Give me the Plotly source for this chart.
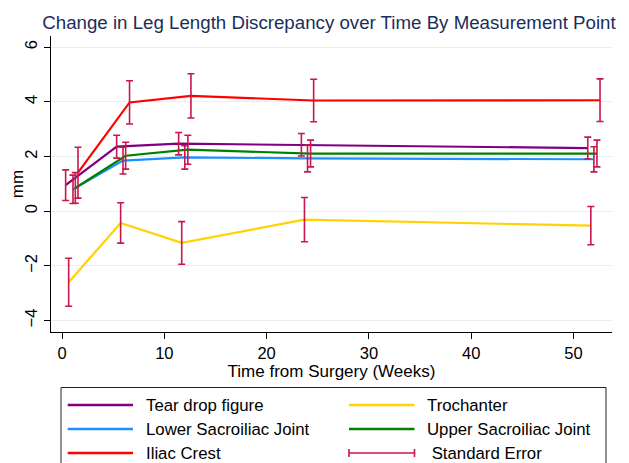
import plotly.graph_objects as go

# ---- data ----
series_names = ["Tear drop figure", "Lower Sacroiliac Joint", "Upper Sacroiliac Joint", "Iliac Crest", "Trochanter"]
series_colors = ["#800080", "#1E8FFF", "#008000", "#FF0000", "#FFD200"]

x_tear = [0.35, 5.34, 11.4, 23.4, 51.4]
y_tear = [0.95, 2.36, 2.47, 2.43, 2.31]
se_tear = [0.56, 0.42, 0.41, 0.41, 0.40]

x_lower = [1.07, 5.96, 12.0, 24.0, 52.0]
y_lower = [0.80, 1.85, 1.97, 1.93, 1.90]
se_lower = [0.52, 0.49, 0.43, 0.49, 0.46]

x_upper = [1.30, 6.22, 12.3, 24.3, 52.3]
y_upper = [0.85, 2.03, 2.25, 2.11, 2.11]
se_upper = [0.56, 0.49, 0.53, 0.49, 0.49]

x_iliac = [1.56, 6.60, 12.6, 24.6, 52.6]
y_iliac = [1.41, 3.98, 4.22, 4.05, 4.06]
se_iliac = [0.93, 0.79, 0.81, 0.78, 0.78]

x_troch = [0.65, 5.73, 11.7, 23.7, 51.7]
y_troch = [-2.60, -0.43, -1.16, -0.31, -0.53]
se_troch = [0.88, 0.74, 0.78, 0.81, 0.70]

x_ticks = [0, 10, 20, 30, 40, 50]
y_ticks = [-4, -2, 0, 2, 4, 6]

legend_order = ["Tear drop figure", "Trochanter", "Lower Sacroiliac Joint", "Upper Sacroiliac Joint", "Iliac Crest", "Standard Error"]

# ---- figure ----
# the page body has an 8px margin, so the figure is drawn 8px smaller and
# all reference pixel positions are shifted by -8
OFF = 8
W, H = 629 - OFF, 463 - OFF
L, R, T, B = 51 - OFF, 17, 36 - OFF, 131
PW, PH = W - L - R, H - T - B
ERR_COLOR = "#C8174A"
FONT = "Liberation Sans, Arial, Helvetica, sans-serif"

data = {
    "Tear drop figure": (x_tear, y_tear, se_tear),
    "Lower Sacroiliac Joint": (x_lower, y_lower, se_lower),
    "Upper Sacroiliac Joint": (x_upper, y_upper, se_upper),
    "Iliac Crest": (x_iliac, y_iliac, se_iliac),
    "Trochanter": (x_troch, y_troch, se_troch),
}
color_of = dict(zip(series_names, series_colors))

fig = go.Figure()
for name in series_names:
    xs, ys, ses = data[name]
    fig.add_trace(go.Scatter(x=xs, y=ys, mode="lines", name=name,
                             line=dict(color=color_of[name], width=2.2),
                             showlegend=False, hoverinfo="skip"))
for name in series_names:
    xs, ys, ses = data[name]
    fig.add_trace(go.Scatter(x=xs, y=ys, mode="markers", name=name + " SE",
                             marker=dict(size=1, color="rgba(0,0,0,0)"),
                             error_y=dict(type="data", array=ses, visible=True,
                                          color=ERR_COLOR, thickness=1.6, width=3.5),
                             showlegend=False, hoverinfo="skip"))

def px2x(px):
    return (px - OFF - L) / PW

def py2y(py):
    return (H - B - (py - OFF)) / PH

shapes = []
annotations = []
# legend box
shapes.append(dict(type="rect", xref="paper", yref="paper",
                   x0=px2x(61), x1=px2x(606), y0=py2y(490), y1=py2y(387.5),
                   line=dict(color="#222222", width=1), fillcolor="white", layer="above"))
rows = [405, 429, 453]
cols = [(67.7, 133, 144), (349, 414.5, 425)]
for i, name in enumerate(legend_order):
    r, c = divmod(i, 2)
    x0, x1, tx = cols[c]
    y = rows[r]
    if name == "Standard Error":
        shapes.append(dict(type="line", xref="paper", yref="paper",
                           x0=px2x(x0), x1=px2x(x1), y0=py2y(y), y1=py2y(y),
                           line=dict(color=ERR_COLOR, width=1.6), layer="above"))
        for xx in (x0, x1):
            shapes.append(dict(type="line", xref="paper", yref="paper",
                               x0=px2x(xx), x1=px2x(xx), y0=py2y(y - 4), y1=py2y(y + 4),
                               line=dict(color=ERR_COLOR, width=1.6), layer="above"))
        label = " " + name
    else:
        shapes.append(dict(type="line", xref="paper", yref="paper",
                           x0=px2x(x0), x1=px2x(x1), y0=py2y(y), y1=py2y(y),
                           line=dict(color=color_of[name], width=2.4), layer="above"))
        label = name
    annotations.append(dict(xref="paper", yref="paper", x=px2x(tx), y=py2y(y),
                            text=label, showarrow=False, xanchor="left", yanchor="middle",
                            font=dict(family=FONT, size=16.8, color="black")))

fig.update_layout(
    width=W, height=H,
    margin=dict(l=L, r=R, t=T, b=B, pad=0, autoexpand=False),
    paper_bgcolor="white", plot_bgcolor="white",
    title=dict(text="Change in Leg Length Discrepancy over Time By Measurement Point",
               x=(329 - OFF) / W, xanchor="center", y=1 - (22 - OFF) / H, yanchor="middle",
               font=dict(family=FONT, size=18.7, color="#1A2E5A")),
    shapes=shapes, annotations=annotations,
    showlegend=False,
)
fig.update_xaxes(range=[-1.08, 53.77], tickvals=x_ticks, ticks="outside", ticklen=6,
                 tickcolor="black", showline=True, linecolor="black", linewidth=1,
                 showgrid=False, zeroline=False, automargin=False,
                 tickfont=dict(family=FONT, size=16.5, color="black"),
                 title=dict(text="Time from Surgery (Weeks)", standoff=2,
                            font=dict(family=FONT, size=17, color="black")))
fig.update_yaxes(range=[-4.42, 6.41], tickvals=y_ticks, ticks="outside", ticklen=6,
                 tickcolor="black", showline=True, linecolor="black", linewidth=1,
                 showgrid=True, gridcolor="#E6EFF1", gridwidth=1, zeroline=False,
                 tickangle=-90, automargin=False,
                 tickfont=dict(family=FONT, size=16.5, color="black"),
                 title=dict(text="mm", standoff=4,
                            font=dict(family=FONT, size=17, color="black")))

fig.write_html("out.html")
